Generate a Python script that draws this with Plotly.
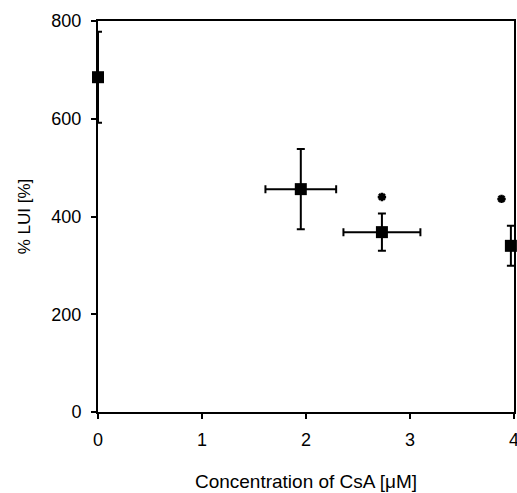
import plotly.graph_objects as go

conc = [0.0, 1.95, 2.73, 3.97]
lui = [685, 456, 368, 340]
lui_err = [93, 82, 38, 41]
conc_err = [0.0, 0.34, 0.37, 0.0]
star_x = [2.73, 3.88]
star_y = [440, 436]
x_ticks = [0, 1, 2, 3, 4]
y_ticks = [0, 200, 400, 600, 800]

fig = go.Figure()
fig.add_trace(go.Scatter(
    x=conc, y=lui, mode="markers",
    marker=dict(symbol="square", size=12, color="black"),
    error_y=dict(type="data", array=lui_err, color="black", thickness=2, width=4),
    error_x=dict(type="data", array=conc_err, color="black", thickness=2, width=4),
    cliponaxis=False, showlegend=False,
))
fig.add_trace(go.Scatter(
    x=star_x, y=star_y, mode="markers",
    marker=dict(symbol="asterisk-open", size=7, color="black",
                line=dict(width=2.5, color="black")),
    cliponaxis=False, showlegend=False,
))

font = "Liberation Sans"
axis_common = dict(showline=True, linecolor="black", linewidth=2, mirror=True,
                   ticks="outside", ticklen=5, tickwidth=2, tickcolor="black",
                   showgrid=False, zeroline=False, automargin=False,
                   ticklabeloverflow="allow",
                   tickfont=dict(family=font, size=18, color="black"))
fig.update_xaxes(range=[0, 4], tickvals=x_ticks, ticklabelstandoff=5,
                 title=dict(text="Concentration of CsA [μM]", standoff=26,
                            font=dict(family=font, size=19, color="black")),
                 **axis_common)
fig.update_yaxes(range=[0, 800], tickvals=y_ticks, ticklabelstandoff=6,
                 title=dict(text="% LUI [%]", standoff=16,
                            font=dict(family=font, size=17, color="black")),
                 **axis_common)
fig.update_layout(width=517, height=493,
                  margin=dict(l=98, r=3, t=21, b=81),
                  plot_bgcolor="white", paper_bgcolor="white")
fig.write_html("out.html", config={"displayModeBar": False},
               post_script="document.body.style.margin='0';document.body.style.overflow='hidden';")
